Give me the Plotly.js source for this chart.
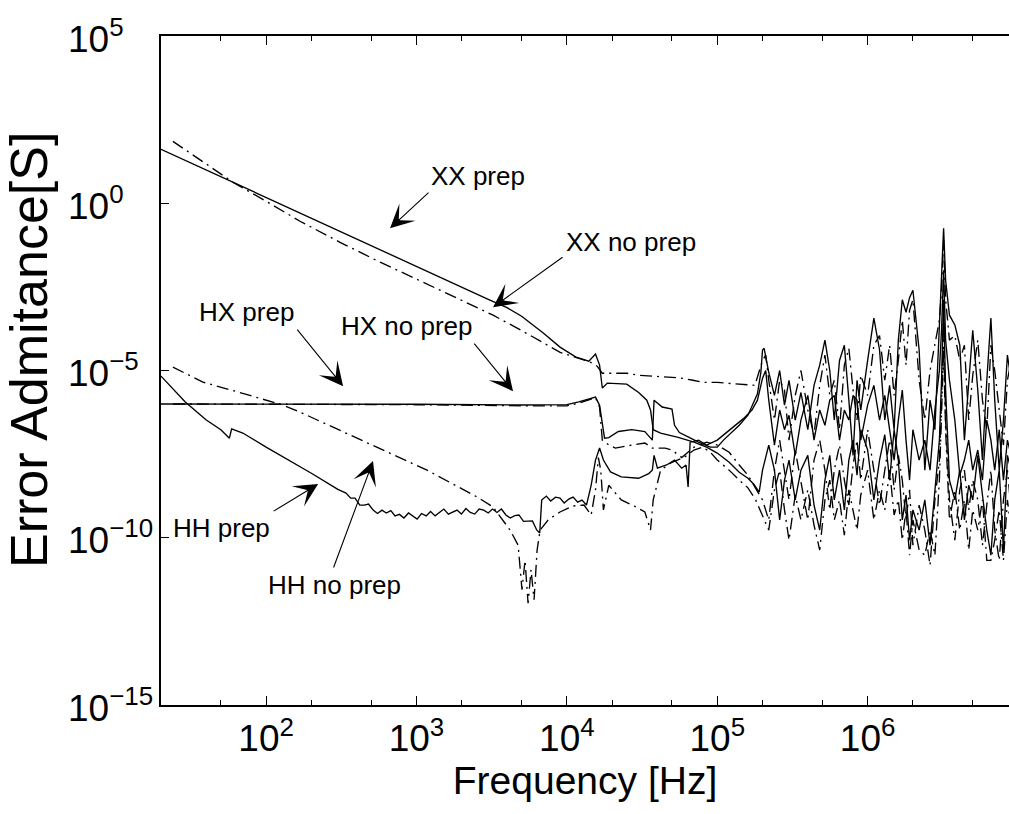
<!DOCTYPE html>
<html>
<head>
<meta charset="utf-8">
<script src="https://cdn.plot.ly/plotly-3.0.1.min.js"></script>
<style>html,body{margin:0;padding:0;background:#fff;}</style>
</head>
<body>
<div id="chart" style="width:1009px;height:814px;"></div>
<script>
// ---------- DATA ----------
// shared high-frequency grid (Hz)
const hfF = [2.2e5,2.4e5,2.6e5,2.8e5,3.0e5,3.3e5,3.6e5,4.0e5,4.4e5,4.8e5,5.2e5,5.6e5,6.0e5,6.5e5,7.0e5,7.5e5,8.0e5,8.5e5,9.0e5,
  1.0e6,1.1e6,1.2e6,1.3e6,1.4e6,1.5e6,1.6e6,1.7e6,1.8e6,1.9e6,2.0e6,
  2.2e6,2.4e6,2.6e6,2.8e6,3.0e6,3.1e6,3.2e6,3.3e6,3.5e6,3.8e6,4.1e6,4.4e6,4.7e6,5.0e6,5.4e6,5.8e6,6.2e6,6.6e6,7.0e6,7.5e6,8.0e6,8.5e6,9.0e6];

// XX prep (solid)
const xxPrepLoF = [20,100,1000,3000,4000,5000,7000,9000,1.15e4,1.4e4,1.55e4,1.65e4,1.72e4,1.86e4,2.5e4,3.0e4,3.4e4,3.6e4,3.75e4,4.2e4,5.5e4,7e4,8.5e4,1.0e5,1.2e5,1.4e5,1.6e5,1.75e5,1.9e5,2.0e5];
const xxPrepLoY = [41,1.46,1.28e-2,1.34e-3,7.6e-4,4.2e-4,1.3e-4,5.0e-5,2.5e-5,1.9e-5,3.1e-5,1.45e-5,3.0e-6,4.2e-6,3.9e-6,2.2e-6,1.3e-6,6.6e-7,1.7e-7,1.35e-7,1.0e-7,7.2e-8,5.1e-8,3.4e-8,1.8e-8,9.1e-9,6.0e-9,4.0e-9,2.3e-9,1.05e-8];
const xxPrepHfY = [5.9e-8,1.05e-8,3.4e-10,5.3e-9,2.1e-8,1.35e-9,1.05e-8,2.9e-8,9.5e-10,1.7e-10,5.3e-9,2.9e-8,1.35e-9,1.05e-8,6.8e-10,2.1e-8,8.3e-8,7.4e-9,1.7e-7,
  4.2e-8,1.35e-9,2.1e-8,1.2e-7,5.3e-9,1.7e-7,2.1e-8,3.4e-10,1.9e-9,8.5e-11,6.8e-10,
  1.7e-10,1.35e-9,6.0e-11,2.7e-9,8.3e-8,5.1e-6,1.3e-3,2.6e-6,5.3e-9,1.35e-9,1.05e-8,3.4e-10,3.7e-9,1.35e-9,2.9e-8,1.9e-9,1.7e-10,3.0e-11,1.35e-9,1.05e-8,4.3e-11,2.9e-8,1.05e-8];

// XX no prep (dash-dot)
const xxNoLoF = [24,36.4,60.4,100,168,310,573,1000,1670,3230,4960,6950,9020,1.135e4,1.43e4,1.59e4,1.72e4,1.86e4,2.5e4,3.0e4,4.17e4,5.66e4,6.9e4,8.05e4,1.0e5,1.27e5,1.58e5,1.78e5,2.0e5,2.1e5];
const xxNoLoY = [71,19.3,4.2,1.15,0.29,6.8e-2,1.73e-2,5.4e-3,1.78e-3,4.5e-4,1.6e-4,6.6e-5,3.5e-5,2.5e-5,1.78e-5,1.35e-5,8.3e-6,8.3e-6,8.3e-6,7.2e-6,6.4e-6,6.0e-6,5.1e-6,4.4e-6,4.4e-6,4.1e-6,3.9e-6,3.6e-6,2.0e-5,2.9e-5];
const xxNoHfY = [5.1e-6,3.3e-7,5.1e-6,2.6e-6,8.3e-8,1.8e-6,1.0e-5,6.6e-7,1.2e-7,3.6e-6,2.9e-5,1.8e-6,5.1e-6,1.7e-7,1.45e-5,4.6e-5,2.6e-6,3.3e-7,7.2e-6,
  1.8e-6,5.7e-5,1.1e-4,5.1e-6,5.7e-5,1.8e-6,2.0e-5,3.2e-4,1.45e-5,6.3e-4,1.3e-3,
  5.1e-6,3.3e-7,1.0e-5,5.7e-5,3.2e-4,2.5e-3,7.9e-2,1.3e-3,8.1e-5,1.1e-4,2.0e-5,5.7e-5,3.3e-7,7.2e-6,8.1e-5,1.3e-6,1.7e-7,5.7e-5,1.0e-5,6.6e-7,5.9e-8,5.1e-6,2.0e-5];

// HX prep (solid)
const hxPrepLoF = [20,100,1000,5000,1e4,1.2e4,1.4e4,1.55e4,1.65e4,1.7e4,1.78e4,1.9e4,2.2e4,2.7e4,3.3e4,3.7e4,3.8e4,4.3e4,4.8e4,5.0e4,5.2e4,5.6e4,6.5e4,7.5e4,9e4,1.0e5,1.1e5,1.25e5,1.4e5,1.6e5,1.75e5,1.85e5,1.95e5,2.0e5,2.05e5];
const hxPrepLoY = [1.0e-6,1.0e-6,9.8e-7,9.3e-7,9.5e-7,1.15e-6,1.4e-6,1.6e-6,9.2e-7,3.3e-7,9.5e-8,9.9e-8,1.5e-7,1.7e-7,1.5e-7,8.3e-8,1.3e-6,8.1e-7,7.5e-7,7.0e-7,2.3e-7,1.4e-7,1.0e-7,7.2e-8,5.1e-8,5.1e-8,8.3e-8,1.4e-7,2.3e-7,4.6e-7,1.1e-6,2.0e-6,8.8e-6,4.1e-5,4.6e-5];
const hxPrepHfY = [8.8e-6,1.8e-6,1.0e-5,9.2e-7,5.1e-6,3.3e-7,2.2e-6,1.7e-7,3.6e-6,1.45e-5,8.1e-5,1.0e-5,3.3e-7,2.0e-5,5.7e-5,1.3e-6,2.9e-8,5.1e-6,6.6e-7,
  2.0e-5,3.7e-4,4.1e-5,3.3e-7,3.6e-6,1.7e-7,8.1e-5,1.3e-3,5.5e-4,1.5e-3,2.5e-3,
  4.1e-5,1.05e-8,1.3e-6,1.7e-7,1.6e-4,5.0e-3,1.8e-1,5.0e-3,4.5e-4,2.3e-4,5.7e-5,8.3e-8,5.1e-6,1.6e-4,2.6e-6,2.1e-8,5.1e-6,3.7e-4,1.3e-6,1.05e-8,3.3e-7,2.9e-5,5.1e-6];

// HX no prep (dash-dot)
const hxNoLoF = [24,100,1000,5000,1e4,1.2e4,1.4e4,1.55e4,1.65e4,1.72e4,1.9e4,2.1e4,2.7e4,3.3e4,3.7e4,4.5e4,5.0e4,5.8e4,7e4,8.5e4,1.0e5,1.2e5,1.4e5,1.6e5,1.8e5,2.0e5];
const hxNoLoY = [1.0e-6,1.0e-6,9.5e-7,8.8e-7,8.8e-7,1.05e-6,1.35e-6,1.55e-6,8.0e-7,8.3e-8,5.9e-8,4.8e-8,5.9e-8,6.8e-8,4.8e-8,4.8e-8,4.2e-8,2.5e-8,5.1e-8,7.2e-8,5.9e-8,3.6e-8,1.5e-8,7.4e-9,3.0e-9,1.35e-9];
const hxNoHfY = [3.4e-10,1.05e-8,8.3e-8,1.05e-8,1.35e-9,4.2e-8,5.3e-9,3.4e-10,2.1e-8,8.3e-8,1.05e-8,6.8e-10,1.05e-8,5.9e-8,5.3e-9,9.5e-10,1.5e-8,8.3e-8,5.3e-9,
  1.7e-7,1.05e-8,9.5e-10,1.05e-8,8.3e-8,2.7e-9,2.9e-8,5.3e-9,3.4e-10,2.7e-9,6.0e-11,
  9.5e-10,1.7e-10,1.5e-11,1.35e-9,2.1e-8,1.3e-6,3.2e-4,3.3e-7,1.35e-9,8.5e-11,2.7e-9,1.05e-8,6.8e-10,5.3e-9,1.35e-9,6.0e-11,9.5e-10,1.05e-8,1.7e-10,2.1e-11,1.35e-9,1.05e-8,6.8e-10];

// HH prep (solid, noisy)
const hhPrepLoF = [20,29,40,50,57,59,70,100,200,300,340,365,390,420,450,480,515,550,590,630,675,720,770,825,885,945,1010,1080,1160,1240,1330,1420,1520,1630,1740,1860,1990,2130,2280,2440,2610,2800,3000,3200,3430,3670,3930,4200,4500,4800,5150,5500,5900,6300,6600,6800,7300,7800,8400,9000,9600,1.03e4,1.1e4,1.18e4,1.26e4,1.35e4,1.45e4,1.55e4,1.65e4,1.75e4,1.95e4,2.3e4,3.0e4,3.5e4,3.7e4,3.8e4,4.0e4,4.6e4,5.2e4,5.8e4,6.2e4,6.4e4,6.6e4,7.5e4,8.5e4,1.0e5,1.15e5,1.3e5,1.5e5,1.7e5,1.85e5,1.95e5,2.0e5,2.1e5];
const hhPrepLoY = [6.8e-6,1.15e-6,3.3e-7,1.7e-7,9.5e-8,1.8e-7,1.35e-7,5.1e-8,8.5e-9,2.8e-9,
  2.16e-9,1.53e-9,1.53e-9,9.5e-10,9.5e-10,1.02e-9,6.7e-10,5.3e-10,6.7e-10,5.5e-10,
  6.5e-10,4.5e-10,5.0e-10,3.9e-10,5.5e-10,4.5e-10,3.6e-10,5.3e-10,4.5e-10,6.1e-10,
  4.5e-10,5.7e-10,7.2e-10,5.1e-10,5.7e-10,6.7e-10,5.1e-10,7.5e-10,5.7e-10,5.1e-10,
  7.2e-10,6.7e-10,5.5e-10,7.2e-10,5.7e-10,7.2e-10,4.8e-10,3.9e-10,4.6e-10,4.8e-10,
  3.1e-10,3.2e-10,3.2e-10,1.71e-10,1.39e-10,
  1.34e-9,1.76e-9,1.25e-9,1.64e-9,1.53e-9,1.09e-9,1.43e-9,1.64e-9,1.16e-9,1.34e-9,9.5e-10,
  3.7e-9,2.1e-8,4.8e-8,2.1e-8,9.3e-9,6.6e-9,6.0e-9,8.3e-9,1.05e-8,2.9e-8,1.2e-8,1.5e-8,2.1e-8,1.2e-8,1.5e-8,3.3e-9,7.2e-8,8.3e-8,5.9e-8,8.3e-8,1.4e-7,2.3e-7,3.7e-7,6.6e-7,1.3e-6,3.6e-6,5.9e-6,1.0e-5];
const hhPrepHfY = [1.3e-6,5.9e-8,6.6e-7,1.7e-7,4.6e-7,2.9e-8,3.3e-7,1.8e-6,8.3e-8,6.6e-7,2.3e-7,1.3e-6,1.8e-6,8.3e-8,6.6e-7,3.3e-7,1.8e-6,1.3e-6,8.3e-8,
  9.2e-7,3.6e-6,3.3e-7,1.8e-6,1.7e-7,2.1e-8,3.3e-7,2.6e-6,8.3e-8,5.3e-9,1.7e-7,
  2.1e-8,8.3e-8,1.05e-8,6.6e-7,1.0e-5,1.6e-4,1.0e-2,8.1e-5,5.1e-6,3.3e-7,7.4e-9,2.1e-8,8.3e-8,1.05e-8,4.2e-8,5.3e-9,3.3e-7,8.3e-8,1.05e-8,1.7e-7,5.3e-9,8.3e-8,2.9e-8];

// HH no prep (dash-dot)
const hhNoLoF = [24,38,78,130,168,279,547,1175,2530,3230,4190,4740,5030,5270,5520,5780,6050,6340,6640,7500,9000,1.1e4,1.3e4,1.45e4,1.55e4,1.62e4,1.68e4,1.75e4,1.9e4,2.3e4,2.8e4,3.3e4,3.6e4,3.75e4,4.2e4,5.0e4,6.0e4,7.0e4,8.0e4,9.0e4,1.0e5,1.2e5,1.4e5,1.6e5,1.8e5,2.0e5];
const hhNoLoY = [1.26e-5,4.5e-6,1.8e-6,9.2e-7,5.7e-7,2.0e-7,5.1e-8,1.05e-8,1.65e-9,8.3e-10,1.7e-10,6.0e-11,2.8e-12,2.1e-11,1.1e-12,1.1e-11,1.4e-12,4.3e-11,1.7e-10,3.4e-10,5.9e-10,8.9e-10,9.5e-10,4.8e-10,2.7e-9,2.5e-8,1.05e-8,6.8e-10,3.7e-9,1.35e-9,8.9e-10,5.9e-10,1.7e-10,1.35e-9,1.05e-8,1.8e-8,2.5e-8,4.2e-8,5.1e-8,3.6e-8,2.1e-8,1.05e-8,5.3e-9,3.1e-9,1.35e-9,4.8e-10];
const hhNoHfY = [1.7e-10,2.7e-9,1.05e-8,6.8e-10,8.5e-11,1.9e-9,3.4e-10,2.7e-9,2.4e-10,4.3e-11,1.35e-9,5.3e-9,3.4e-10,1.35e-9,1.2e-10,2.7e-9,6.8e-10,1.7e-10,1.9e-9,
  1.05e-8,3.4e-10,2.7e-9,6.8e-10,1.05e-8,4.8e-10,1.35e-9,8.5e-11,6.8e-10,3.0e-11,3.4e-10,
  4.3e-11,3.0e-11,1.7e-10,3.0e-11,5.3e-9,3.3e-7,4.1e-5,1.7e-7,3.4e-10,2.7e-9,1.7e-10,1.35e-9,4.3e-11,6.8e-10,1.7e-10,1.35e-9,2.1e-11,2.1e-11,8.5e-11,6.8e-10,2.1e-11,1.35e-9,1.7e-10];

// axis tick labels
const yTickVals = [1e-15,1e-10,1e-5,1e0,1e5];
const yTickText = ['10<sup>\u221215</sup>','10<sup>\u221210</sup>','10<sup>\u22125</sup>','10<sup>0</sup>','10<sup>5</sup>'];
const xTickVals = [1e2,1e3,1e4,1e5,1e6];
const xTickText = ['10<sup>2</sup>','10<sup>3</sup>','10<sup>4</sup>','10<sup>5</sup>','10<sup>6</sup>'];
const xTitle = 'Frequency [Hz]';
const yTitle = 'Error Admitance[S]';

// annotation labels
const labels = ['XX prep','XX no prep','HX prep','HX no prep','HH prep','HH no prep'];

// ---------- TRACES ----------
const FONT = 'Liberation Sans, Arial, Helvetica, sans-serif';
const DASHDOT = '12px,5px,2px,5px';
function mk(fx, fy, dash){
  return {x: fx, y: fy, type:'scatter', mode:'lines', hoverinfo:'skip',
          line:{color:'#000', width:1.35, dash: dash || 'solid'}};
}
const traces = [
  mk(xxPrepLoF.concat(hfF), xxPrepLoY.concat(xxPrepHfY)),
  mk(xxNoLoF.concat(hfF), xxNoLoY.concat(xxNoHfY), DASHDOT),
  mk(hxPrepLoF.concat(hfF), hxPrepLoY.concat(hxPrepHfY)),
  mk(hxNoLoF.concat(hfF), hxNoLoY.concat(hxNoHfY), DASHDOT),
  mk(hhPrepLoF.concat(hfF), hhPrepLoY.concat(hhPrepHfY)),
  mk(hhNoLoF.concat(hfF), hhNoLoY.concat(hhNoHfY), DASHDOT)
];

// ---------- ANNOTATIONS (positions in log10 axis units) ----------
const textPos = [[3.410,0.81],[4.427,-1.16],[1.867,-3.25],[2.938,-3.67],[1.701,-9.71],[2.452,-11.41]];
const arrowHead = [[2.824,-0.747],[3.509,-3.107],[2.512,-5.468],[3.642,-5.617],[2.346,-8.396],[2.711,-7.708]];
const arrowTail = [[3.090,0.359],[3.981,-1.583],[2.199,-3.735],[3.376,-4.153],[2.040,-9.232],[2.445,-10.935]];
const annotations = [];
labels.forEach((t,i)=>{
  annotations.push({xref:'x', yref:'y', x:textPos[i][0], y:textPos[i][1], text:t, showarrow:false,
    font:{size:26, color:'#000', family:FONT}, xanchor:'center', yanchor:'middle'});
  annotations.push({xref:'x', yref:'y', axref:'x', ayref:'y', x:arrowHead[i][0], y:arrowHead[i][1],
    ax:arrowTail[i][0], ay:arrowTail[i][1], text:'', showarrow:true, arrowhead:3, arrowsize:3.6,
    arrowwidth:1.1, arrowcolor:'#000'});
});
// y tick labels: MATLAB style, the "10" of every label starts at the same x
const PLOT_W = 848;
yTickVals.forEach((v,i)=>{
  annotations.push({xref:'paper', yref:'y', x:(66-161)/PLOT_W, y:Math.log10(v), text:yTickText[i],
    showarrow:false, xanchor:'left', yanchor:'middle', font:{size:37, color:'#000', family:FONT}});
});
// y axis title
annotations.push({xref:'paper', yref:'paper', x:(29-161)/PLOT_W, y:(705-350)/669, text:yTitle,
  textangle:-90, showarrow:false, xanchor:'center', yanchor:'middle', font:{size:52, color:'#000', family:FONT}});

const layout = {
  width:1009, height:814,
  margin:{l:161, r:0, t:36, b:109, pad:0},
  paper_bgcolor:'#fff', plot_bgcolor:'#fff',
  showlegend:false,
  font:{family:FONT, color:'#000'},
  xaxis:{type:'log', range:[Math.log10(20), 6.94], showline:true, linecolor:'#000', linewidth:1.8,
    mirror:'ticks', ticks:'inside', ticklen:9, tickwidth:1, tickcolor:'#000',
    tickmode:'array', tickvals:xTickVals, ticktext:xTickText,
    tickfont:{size:37}, showgrid:false, zeroline:false,
    minor:{ticks:'inside', ticklen:5, tickwidth:1, tickcolor:'#000', showgrid:false},
    title:{text:xTitle, font:{size:39}, standoff:4}},
  yaxis:{type:'log', range:[-15,5], showline:true, linecolor:'#000', linewidth:1.8,
    mirror:false, ticks:'inside', ticklen:8, tickwidth:1, tickcolor:'#000',
    tickmode:'array', tickvals:yTickVals, showticklabels:false,
    showgrid:false, zeroline:false},
  annotations: annotations
};

Plotly.newPlot('chart', traces, layout, {staticPlot:true, displayModeBar:false});
</script>
</body>
</html>
